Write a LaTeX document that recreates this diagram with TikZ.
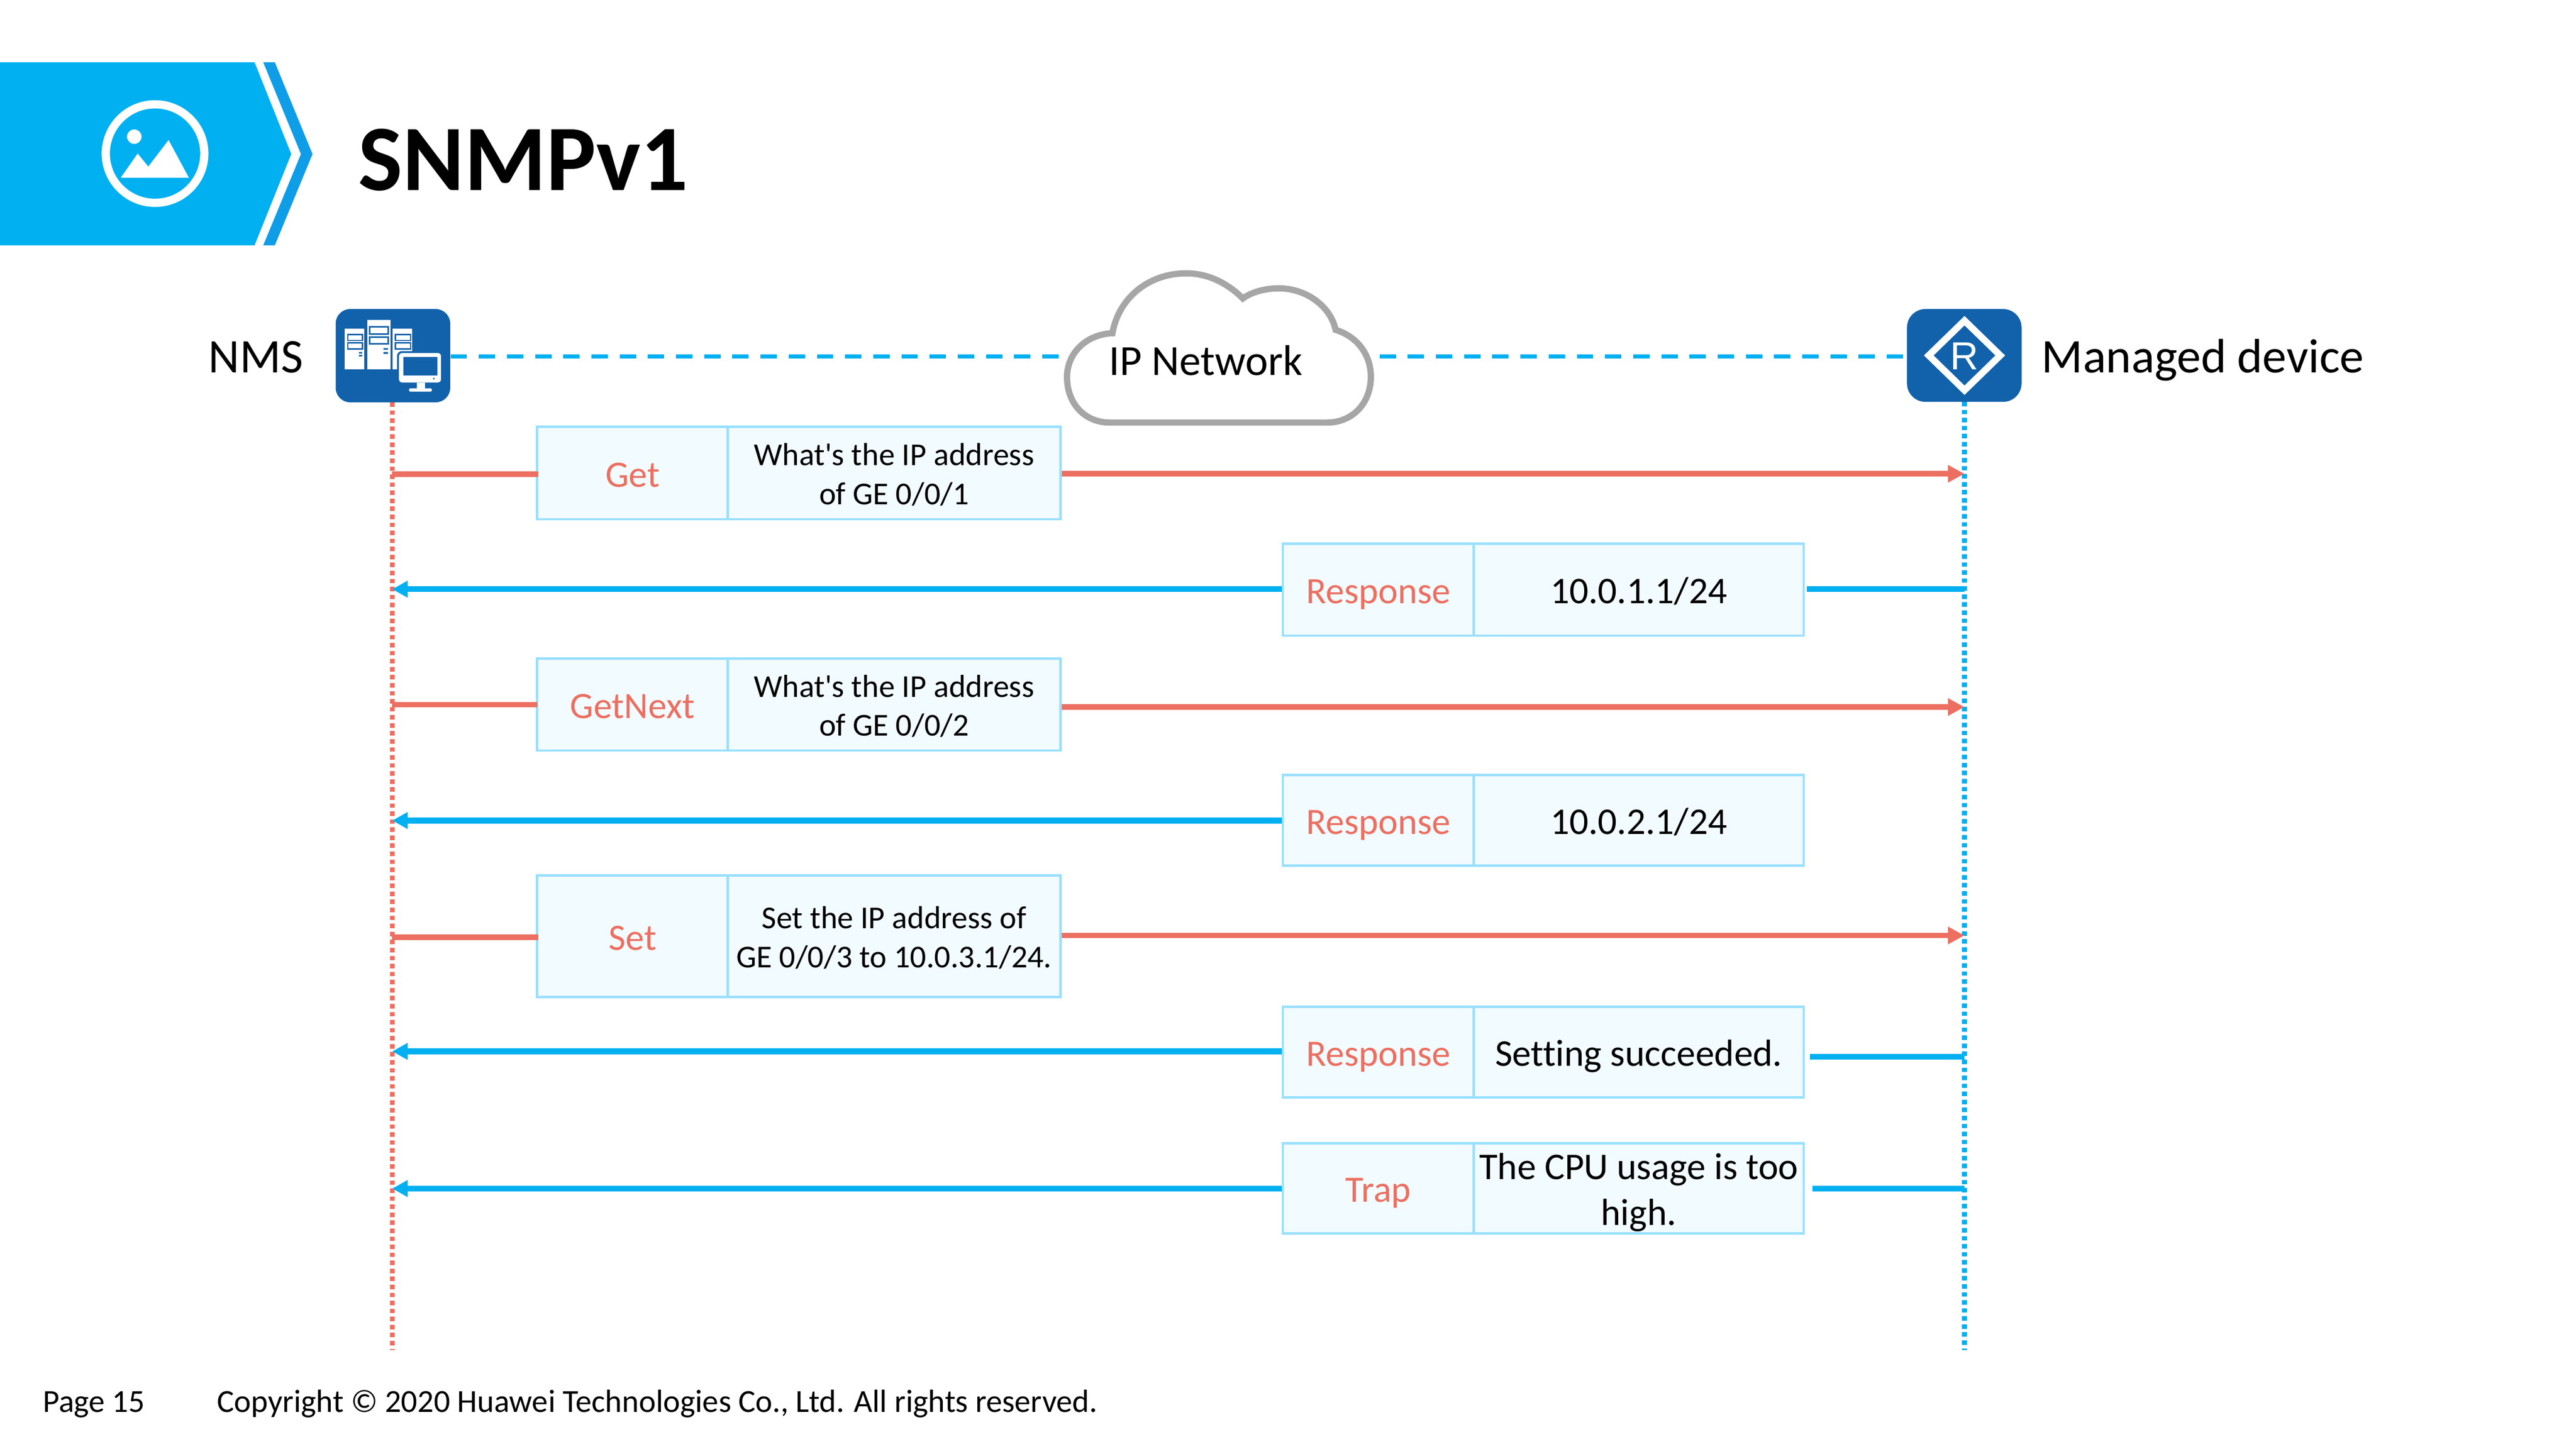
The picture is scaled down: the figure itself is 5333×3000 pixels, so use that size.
\documentclass[tikz,border=0pt]{standalone}
\usepackage{fontspec}
\setmainfont[Ligatures=NoCommon]{Carlito}
\newfontfamily\arialf{Liberation Sans}
\usetikzlibrary{arrows.meta,calc}
\definecolor{hwblue}{HTML}{00B0F0}
\definecolor{chev}{HTML}{0F9DE8}
\definecolor{icon}{HTML}{1262AB}
\definecolor{hwred}{HTML}{EC6F61}
\definecolor{boxline}{HTML}{99E0FF}
\definecolor{boxfill}{HTML}{F2FBFF}
\definecolor{cloudg}{HTML}{A6A6A6}
\newcommand\fz[1]{\fontsize{\fpeval{#1*0.28453}}{\fpeval{#1*1.22*0.28453}}\selectfont}
\newcommand\ls{\rule[-0.18em]{0pt}{1.1em}}
\newcommand\msg[9]{%
  % #1 name, #2 x1, #3 xdiv, #4 x2, #5 y1, #6 y2, #7 label, #8 body, #9 body size
  \node[msgcell,text=hwred,font=\fz{77},minimum width=\fpeval{(#3-#2)*0.01}cm,minimum height=\fpeval{(#6-#5)*0.01}cm]
    (#1a) at ({(#2+#3)/2},{(#5+#6)/2}) {\ls #7};
  \node[msgcell,font=\fz{#9},minimum width=\fpeval{(#4-#3)*0.01}cm,minimum height=\fpeval{(#6-#5)*0.01}cm]
    (#1b) at ({(#3+#4)/2},{(#5+#6)/2}) {#8};
}
\tikzset{
  msgcell/.style={draw=boxline,fill=boxfill,line width=0.05cm,inner sep=0pt,align=center,rectangle},
  iconbox/.style={fill=icon,rounded corners=0.3cm,inner sep=0pt,rectangle},
  lifered/.style={hwred,line width=0.09cm,dash pattern=on 0.093cm off 0.073cm},
  lifeblue/.style={hwblue,line width=0.10cm,dash pattern=on 0.093cm off 0.073cm},
  netlink/.style={hwblue,line width=0.09cm,dash pattern=on 0.34cm off 0.243cm},
  redarrow/.style={hwred,line width=0.115cm},
  bluearrow/.style={hwblue,line width=0.12cm},
  redtip/.style={redarrow,-{Triangle[length=0.34cm,width=0.34cm]}},
  bluetip/.style={bluearrow,-{Triangle[length=0.32cm,width=0.33cm]}},
  label/.style={inner sep=0pt,anchor=base west},
}
\begin{document}
\begin{tikzpicture}[x=0.01cm,y=-0.01cm]
\useasboundingbox (0,0) rectangle (5333,3000);
\fill[white] (0,0) rectangle (5333,3000);
% banner
\fill[hwblue] (0,129) -- (527,129) -- (603,319) -- (527,508) -- (0,508) -- cycle;
\fill[chev] (545,129) -- (569,129) -- (647,319) -- (569,508) -- (545,508) -- (623,319) -- cycle;
\draw[white,line width=0.17cm] (321,318) circle [radius=102];
\fill[white] (278,283) circle [radius=15];
\fill[white] (250,368) -- (285,318) -- (307,345) -- (349,290) -- (391,368) -- cycle;
\node[label,font=\bfseries\fz{194}] (title) at (741,394) {SNMPv1};
% coordinates of lifelines
\coordinate (nt) at (812,833);
\coordinate (nb) at (812,2795);
\coordinate (dt) at (4067,832);
\coordinate (db) at (4067,2795);
\draw[lifered] (nt) -- (nb);
\draw[lifeblue] (dt) -- (db);
% NMS icon
\node[iconbox,minimum width=2.37cm,minimum height=1.93cm] (nms) at (813.5,736.5) {};
\begin{scope}
\fill[white] (714,680) rectangle (754,765);
\fill[white] (760,662) rectangle (808,765);
\fill[white] (813,680) rectangle (853,765);
\draw[icon,line width=0.03cm] (720,693) rectangle (750,705) (720,710) rectangle (750,723)
  (765,677) rectangle (804,692) (765,698) rectangle (804,712)
  (819,693) rectangle (850,705) (819,710) rectangle (850,723);
\fill[icon] (743,729) rectangle (750,732) (743,735) rectangle (750,738)
  (794,721) rectangle (803,724) (794,729) rectangle (803,733);
\filldraw[fill=white,draw=icon,line width=0.04cm,rounded corners=0.08cm] (824,729) rectangle (915,794);
\fill[icon] (835,739) rectangle (906,778);
\fill[white] (863,792) rectangle (880,806);
\fill[white,rounded corners=0.02cm] (847,804) rectangle (894,811);
\fill[icon] (898,784) circle [radius=2];
\end{scope}
% device icon
\node[iconbox,minimum width=2.37cm,minimum height=1.92cm,rounded corners=0.38cm] (dev) at (4066.5,736) {};
\draw[white,line width=0.14cm,miter limit=10] (4067,664) -- (4141,736) -- (4067,808) -- (3993,736) -- cycle;
\node[inner sep=0pt,text=white,font=\arialf\fz{81}] (routerR) at (4067,737) {R};
\node[label,font=\fz{100}] (nmsl) at (431,772) {NMS};
\node[label,font=\fz{100}] (devl) at (4226,772) {Managed device};
% network
\coordinate (cl) at (2215,738);
\coordinate (cr) at (2856,738);
\draw[netlink] (nms.east |- cl) -- (cl);
\draw[netlink] (cr) -- (dev.west |- cr);
\filldraw[draw=cloudg,fill=white,line width=0.13cm,line join=miter]
  (2298,875) -- (2747,875) .. controls (2800,875) and (2838,835) .. (2838,780)
  .. controls (2838,730) and (2805,695) .. (2765,683)
  .. controls (2755,635) and (2705,597) .. (2647,597)
  .. controls (2620,597) and (2590,605) .. (2573,618)
  .. controls (2545,590) and (2505,566) .. (2456,566)
  .. controls (2375,566) and (2315,620) .. (2303,690)
  .. controls (2250,692) and (2209,730) .. (2209,781)
  .. controls (2209,835) and (2245,875) .. (2298,875) -- cycle;
\node[label,font=\fz{89}] (net) at (2295,777) {IP Network};
% messages
\msg{r1}{1112}{1507}{2195}{884}{1075}{Get}{\ls What\textquotesingle s the IP address\\\ls of GE 0/0/1}{66}
\msg{r2}{2656}{3051}{3734}{1126}{1316}{Response}{\ls 10.0.1.1/24}{78}
\msg{r3}{1112}{1507}{2195}{1364}{1554}{GetNext}{\ls What\textquotesingle s the IP address\\\ls of GE 0/0/2}{66}
\msg{r4}{2656}{3051}{3734}{1605}{1792}{Response}{\ls 10.0.2.1/24}{78}
\msg{r5}{1112}{1507}{2195}{1813}{2064}{Set}{\ls Set the IP address of\\\ls GE 0/0/3 to 10.0.3.1/24.}{66}
\msg{r6}{2656}{3051}{3734}{2085}{2272}{Response}{\ls Setting succeeded.}{78}
\msg{r7}{2656}{3051}{3734}{2367}{2554}{Trap}{\ls The CPU usage is too\\\ls high.}{78}
% rows
\coordinate (a1) at (812,982); \coordinate (b1) at (4067,981);
\draw[redarrow] (a1) -- ($(a1 -| r1a.west)+(5,0)$);
\draw[redtip] (b1 -| r1b.east) -- (b1);
\coordinate (a2) at (812,1220); \coordinate (b2) at (4067,1220);
\draw[bluetip] (a2 -| r2a.west) -- (a2);
\draw[bluearrow] ($(b2 -| r2b.east)+(4,0)$) -- (b2);
\coordinate (a3) at (812,1459); \coordinate (b3) at (4067,1464);
\draw[redarrow] (a3) -- ($(a3 -| r3a.west)+(3,0)$);
\draw[redtip] (b3 -| r3b.east) -- (b3);
\coordinate (a4) at (812,1699);
\draw[bluetip] (a4 -| r4a.west) -- (a4);
\coordinate (a5) at (812,1941); \coordinate (b5) at (4067,1937);
\draw[redarrow] (a5) -- ($(a5 -| r5a.west)+(5,0)$);
\draw[redtip] (b5 -| r5b.east) -- (b5);
\coordinate (a6) at (812,2177); \coordinate (b6) at (4067,2188);
\draw[bluetip] (a6 -| r6a.west) -- (a6);
\draw[bluearrow] ($(b6 -| r6b.east)+(10,0)$) -- (b6);
\coordinate (a7) at (812,2461); \coordinate (b7) at (4067,2461);
\draw[bluetip] (a7 -| r7a.west) -- (a7);
\draw[bluearrow] ($(b7 -| r7b.east)+(16,0)$) -- (b7);
% footer
\node[label,font=\fz{66.5}] (page) at (88,2924) {Page 15};
\node[label,font=\fz{66.5}] (copy) at (449,2924) {Copyright © 2020 Huawei Technologies Co., Ltd. All rights reserved.};
\end{tikzpicture}
\end{document}
